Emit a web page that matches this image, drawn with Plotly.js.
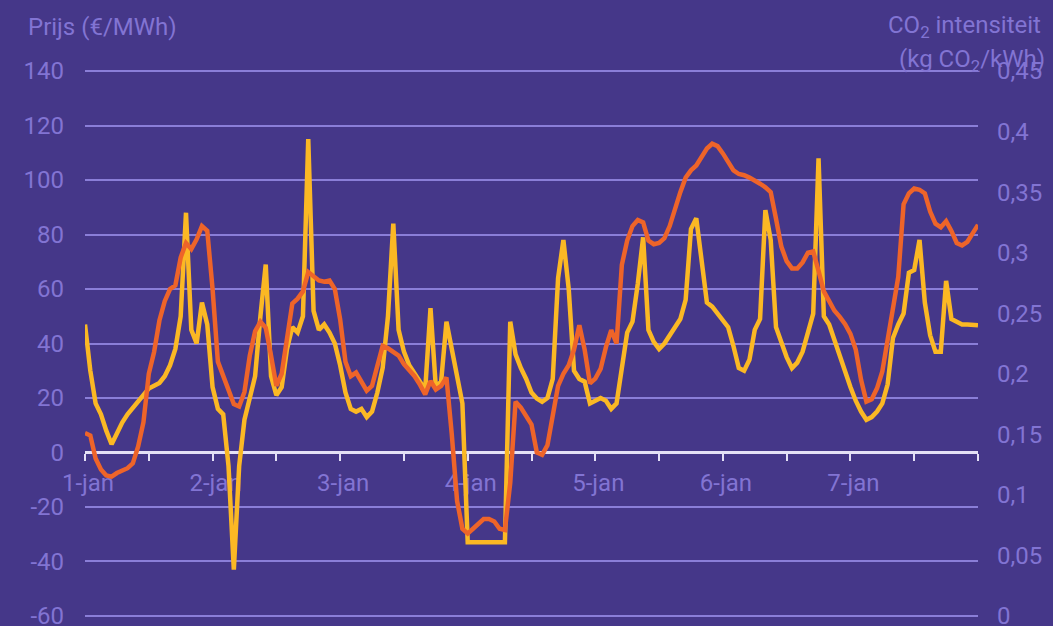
<!DOCTYPE html>
<html>
<head>
<meta charset="utf-8">
<script src="https://cdn.plot.ly/plotly-3.0.1.min.js"></script>
<style>
  html, body { margin: 0; padding: 0; background: #453789; }
  #chart { width: 1053px; height: 626px; }
</style>
</head>
<body>
<div id="chart"></div>
<script>
// Hourly price (€/MWh), 1-jan 00:00 .. 8-jan 00:00
const price = [
  47, 30, 18, 14, 8, 3, 7, 11, 14, 16.5, 19, 21,
  23.5, 24.5, 25.5, 28, 32, 38, 50, 88, 45, 40, 55, 47,
  24, 16, 14, -5, -43, -5, 12, 20, 28, 50, 69, 28,
  21, 24, 38, 46, 44, 50, 115, 52, 45, 47, 44, 40,
  32, 22, 16, 15, 16, 13, 15, 22, 31, 50, 84, 45,
  37, 32, 29, 26, 23, 53, 24, 26, 48, 38, 28, 18,
  -33, -33, -33, -33, -33, -33, -33, -33, 48, 36, 31, 27,
  22, 19.8, 18.6, 20, 27, 64, 78, 60, 30, 27, 26, 18,
  19, 20, 19, 16, 18, 30, 44, 48, 62, 79, 45, 40.6,
  38, 40, 43, 46, 49, 56, 82, 86, 70, 55, 53.5, 51,
  49, 46, 39, 31, 30, 34, 45, 49, 89, 78, 46, 40,
  35, 31, 33, 37, 44, 51, 108, 50, 47, 41, 35, 29,
  24, 19, 15, 12, 13, 15, 18, 25, 42, 47, 51, 66,
  67, 78, 55, 43, 37, 37, 63, 49, 48, 47, 47, 46.7,
  46.7
];

// Hourly CO2 intensity (kg CO2/kWh)
const co2 = [
  0.151, 0.149, 0.130, 0.121, 0.116, 0.115, 0.118, 0.120, 0.122, 0.126, 0.140, 0.160,
  0.200, 0.218, 0.244, 0.260, 0.270, 0.273, 0.296, 0.308, 0.303, 0.311, 0.322, 0.318,
  0.270, 0.210, 0.198, 0.185, 0.175, 0.173, 0.185, 0.215, 0.235, 0.243, 0.238, 0.215,
  0.190, 0.200, 0.230, 0.258, 0.262, 0.268, 0.284, 0.280, 0.277, 0.276, 0.277, 0.270,
  0.245, 0.210, 0.198, 0.201, 0.194, 0.186, 0.190, 0.208, 0.223, 0.221, 0.218, 0.215,
  0.208, 0.203, 0.198, 0.191, 0.183, 0.194, 0.187, 0.190, 0.197, 0.150, 0.095, 0.072,
  0.068, 0.072, 0.076, 0.080, 0.080, 0.078, 0.072, 0.071, 0.110, 0.177, 0.172, 0.165,
  0.158, 0.135, 0.133, 0.141, 0.167, 0.190, 0.200, 0.207, 0.220, 0.240, 0.220, 0.192,
  0.196, 0.204, 0.222, 0.236, 0.225, 0.290, 0.310, 0.322, 0.327, 0.325, 0.310, 0.307,
  0.308, 0.312, 0.322, 0.337, 0.350, 0.362, 0.368, 0.372, 0.379, 0.386, 0.390, 0.388,
  0.382, 0.375, 0.368, 0.365, 0.364, 0.362, 0.360, 0.357, 0.354, 0.350, 0.328, 0.305,
  0.293, 0.287, 0.287, 0.292, 0.300, 0.301, 0.285, 0.268, 0.260, 0.252, 0.247, 0.241,
  0.233, 0.220, 0.195, 0.177, 0.179, 0.188, 0.202, 0.227, 0.255, 0.280, 0.340, 0.349,
  0.353, 0.352, 0.349, 0.334, 0.324, 0.321, 0.326, 0.318, 0.308, 0.306, 0.309, 0.316,
  0.323
];

// x-axis ticks every 12 hours, labels at day starts
const xTickHours = [0, 12, 24, 36, 48, 60, 72, 84, 96, 108, 120, 132, 144, 156, 168];
const xTickText = ['1-jan', '', '2-jan', '', '3-jan', '', '4-jan', '', '5-jan', '', '6-jan', '', '7-jan', '', ''];

const priceTicks = [-60, -40, -20, 0, 20, 40, 60, 80, 100, 120, 140];
const priceTickText = ['-60', '-40', '-20', '0', '20', '40', '60', '80', '100', '120', '140'];

const co2Ticks = [0, 0.05, 0.1, 0.15, 0.2, 0.25, 0.3, 0.35, 0.4, 0.45];
const co2TickText = ['0', '0,05', '0,1', '0,15', '0,2', '0,25', '0,3', '0,35', '0,4', '0,45'];

const hours = price.map((_, i) => i);

// Price axis padded slightly so the edge gridlines (140 and -60) are drawn;
// CO2 axis aligned so that 0 ↔ -60 and 0,45 ↔ 140.
const PAD = 0.4;
const priceRange = [-60 - PAD, 140 + PAD];
const k = 0.45 / 200;
const co2Range = [0 - PAD * k, 0.45 + PAD * k];
const zeroFrac = (0 - priceRange[0]) / (priceRange[1] - priceRange[0]);

const BG = '#453789';
const LABEL = '#8274d3';
const GRID = '#8a7ed8';
const AXIS = '#e4e0f6';
const FONT = 'Roboto, "Open Sans", sans-serif';

const traces = [
  {
    x: hours, y: co2, xaxis: 'x', yaxis: 'y2', type: 'scatter', mode: 'lines',
    line: { color: '#ee6429', width: 4.5 }, hoverinfo: 'skip', showlegend: false
  },
  {
    x: hours, y: price, xaxis: 'x', yaxis: 'y', type: 'scatter', mode: 'lines',
    line: { color: '#fbb824', width: 4.5 }, hoverinfo: 'skip', showlegend: false
  }
];

const layout = {
  width: 1053, height: 626,
  margin: { l: 85, r: 75, t: 70, b: 9, pad: 0 },
  paper_bgcolor: BG, plot_bgcolor: BG,
  font: { family: FONT, color: LABEL, size: 24 },
  showlegend: false,
  xaxis: {
    type: 'linear', range: [0, 168], anchor: 'free', position: zeroFrac,
    tickmode: 'array', tickvals: xTickHours, ticktext: xTickText,
    ticks: 'outside', ticklen: 7, tickwidth: 2, tickcolor: AXIS,
    showline: true, linecolor: AXIS, linewidth: 2.5,
    showgrid: false, zeroline: false, layer: 'below traces',
    tickfont: { family: FONT, size: 24, color: LABEL },
    ticklabelstandoff: 1, ticklabelshift: 3, ticklabeloverflow: 'allow'
  },
  xaxis2: {
    type: 'linear', range: [0, 168], overlaying: 'x', anchor: 'free', position: zeroFrac, side: 'top',
    tickmode: 'array', tickvals: xTickHours,
    ticks: 'outside', ticklen: 7, tickwidth: 2, tickcolor: AXIS,
    showticklabels: false, showline: false, showgrid: false, zeroline: false, layer: 'below traces'
  },
  yaxis: {
    range: priceRange, tickmode: 'array', tickvals: priceTicks, ticktext: priceTickText,
    showgrid: true, gridcolor: GRID, gridwidth: 2, zeroline: false, showline: false,
    ticks: '', tickfont: { family: FONT, size: 24, color: LABEL },
    ticklabelstandoff: 20, ticklabeloverflow: 'allow'
  },
  yaxis2: {
    range: co2Range, overlaying: 'y', side: 'right', anchor: 'x',
    tickmode: 'array', tickvals: co2Ticks, ticktext: co2TickText,
    showgrid: false, zeroline: false, showline: false,
    ticks: '', tickfont: { family: FONT, size: 24, color: LABEL },
    ticklabelstandoff: 18, ticklabeloverflow: 'allow'
  },
  annotations: [
    {
      text: 'Prijs (€/MWh)', xref: 'paper', yref: 'paper',
      x: -0.066, y: 1.079, xanchor: 'left', yanchor: 'middle', showarrow: false,
      font: { family: FONT, size: 24, color: LABEL }
    },
    {
      text: 'CO<sub>2</sub> intensiteit', xref: 'paper', yref: 'paper',
      x: 1.073, y: 1.08, xanchor: 'right', yanchor: 'middle', showarrow: false,
      font: { family: FONT, size: 24, color: LABEL }
    },
    {
      text: '(kg CO<sub>2</sub>/kWh)', xref: 'paper', yref: 'paper',
      x: 1.077, y: 1.018, xanchor: 'right', yanchor: 'middle', showarrow: false,
      font: { family: FONT, size: 24, color: LABEL }
    }
  ]
};

Plotly.newPlot('chart', traces, layout, { staticPlot: true, displayModeBar: false });
</script>
</body>
</html>
